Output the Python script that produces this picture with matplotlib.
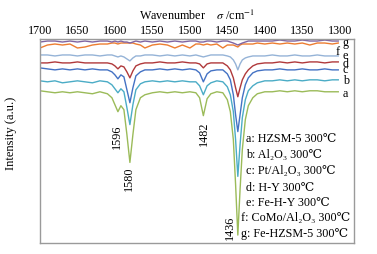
# IR spectra of adsorbed pyridine on different catalysts at 300 C
import matplotlib
matplotlib.use("Agg")
import matplotlib.pyplot as plt

# --- Data (intensity in a.u.) ---
wavenumber = [1700, 1690, 1680, 1670, 1660, 1650, 1640, 1630, 1620, 1610,
              1604, 1600, 1596, 1592, 1588, 1584, 1580, 1576, 1572, 1566,
              1560, 1550, 1540, 1530, 1520, 1510, 1500, 1492, 1487, 1482,
              1477, 1472, 1464, 1456, 1450, 1446, 1442, 1439, 1436, 1433,
              1430, 1426, 1422, 1416, 1410, 1400, 1390, 1380, 1370, 1360,
              1350, 1340, 1330, 1320, 1310, 1302]

spec_a = [153, 152, 151, 152, 151, 152, 151, 150, 152, 150,
          146, 139, 132, 138, 134, 109, 81, 109, 134, 146,
          149, 151, 152, 151, 152, 151, 152, 151, 146, 128,
          145, 150, 152, 151, 144, 132, 104, 59, 8, 54,
          94, 124, 138, 146, 150, 152, 152, 153, 152, 153,
          152, 153, 153, 152, 152, 152]

spec_b = [163, 162, 163, 161, 162, 163, 162, 161, 163, 162,
          159, 155, 151, 155, 152, 136, 119, 139, 154, 160,
          162, 163, 162, 163, 162, 163, 162, 162, 158, 149,
          158, 161, 163, 162, 157, 149, 132, 104, 67, 99,
          126, 144, 153, 158, 161, 163, 163, 164, 163, 164,
          163, 164, 164, 163, 164, 164]

spec_c = [176, 175, 174, 175, 174, 175, 174, 175, 174, 174,
          172, 169, 165, 169, 167, 154, 141, 156, 168, 172,
          174, 174, 175, 174, 175, 174, 175, 174, 171, 162,
          170, 173, 174, 174, 170, 164, 149, 129, 112, 129,
          146, 159, 166, 171, 173, 174, 174, 175, 174, 174,
          175, 174, 174, 175, 174, 174]

spec_d = [181, 181, 182, 181, 181, 182, 181, 181, 181, 181,
          180, 178, 175, 178, 177, 172, 166, 173, 178, 180,
          181, 181, 182, 181, 181, 182, 181, 181, 180, 176,
          180, 181, 181, 181, 178, 174, 166, 156, 147, 156,
          164, 170, 174, 178, 180, 181, 181, 182, 181, 182,
          181, 182, 182, 181, 182, 182]

spec_e = [189, 189, 188, 189, 189, 188, 189, 189, 188, 189,
          189, 188, 187, 188, 187, 185, 183, 186, 188, 188,
          189, 189, 188, 189, 188, 189, 188, 189, 188, 187,
          188, 189, 189, 189, 188, 187, 184, 180, 174, 180,
          184, 186, 187, 188, 188, 188, 189, 188, 188, 189,
          188, 188, 189, 188, 188, 188]

spec_f = [196, 199, 200, 199, 200, 196, 197, 199, 200, 200,
          201, 201, 200, 201, 201, 201, 201, 201, 200, 199,
          196, 199, 200, 199, 196, 199, 196, 200, 200, 199,
          200, 199, 200, 196, 199, 199, 199, 198, 197, 199,
          200, 200, 200, 200, 201, 200, 201, 200, 201, 200,
          201, 199, 201, 201, 200, 201]

spec_g = [202, 203, 203, 202, 203, 202, 203, 202, 203, 203,
          202, 203, 202, 203, 202, 202, 201, 202, 203, 202,
          203, 202, 203, 202, 203, 202, 203, 203, 202, 202,
          203, 203, 202, 203, 203, 202, 201, 200, 199, 200,
          201, 202, 203, 203, 203, 203, 203, 204, 203, 203,
          204, 203, 203, 204, 203, 203]

curve_letters = ["a", "b", "c", "d", "e", "f", "g"]
sample_names = ["a: HZSM-5 300℃",
                "b: Al₂O₃ 300℃",
                "c: Pt/Al₂O₃ 300℃",
                "d: H-Y 300℃",
                "e: Fe-H-Y 300℃",
                "f: CoMo/Al₂O₃ 300℃",
                "g: Fe-HZSM-5 300℃"]
peak_labels = ["1596", "1580", "1482", "1436"]
x_ticks = [1700, 1650, 1600, 1550, 1500, 1450, 1400, 1350, 1300]

colors = ["#9bbb59", "#4bacc6", "#4472c4", "#b0393b", "#95b3d7", "#ed7d31", "#8064a2"]

# --- Fonts ---
# Times-like font first; the others only fill in missing signs (subscripts, ℃)
plt.rcParams["font.family"] = ["Liberation Serif", "DejaVu Serif", "Noto Sans CJK SC"]
plt.rcParams["mathtext.fontset"] = "stix"

fig = plt.figure(figsize=(3.77, 2.55), dpi=100)
ax = fig.add_axes([0.106, 0.043, 0.833, 0.800])

spectra = [spec_a, spec_b, spec_c, spec_d, spec_e, spec_f, spec_g]
for spec, col in zip(spectra, colors):
    ax.plot(wavenumber, spec, color=col, lw=1.0)

# curve letters at the right end
letter_pos = [(1296, 151), (1296, 164), (1296, 175), (1296, 181),
              (1296, 189), (1305, 193), (1296, 202)]
for letter, (lx, ly) in zip(curve_letters, letter_pos):
    ax.text(lx, ly, letter, fontsize=8.7, ha="left", va="center")

# peak position labels (vertical)
peak_pos = [(1598, 108), (1581, 66), (1481, 111), (1446, 16)]
for lab, (px, py) in zip(peak_labels, peak_pos):
    ax.text(px, py, lab, rotation=90, fontsize=8.7, ha="center", va="center")

# sample list
name_pos = [(1425, 106), (1425, 89), (1425, 73), (1425, 56),
            (1425, 41), (1432, 26), (1432, 10)]
for name, (nx, ny) in zip(sample_names, name_pos):
    ax.text(nx, ny, name, fontsize=8.7, ha="left", va="center")

# --- Axes styling ---
ax.set_xlim(1700, 1281)
ax.set_ylim(0, 205)
ax.xaxis.tick_top()
ax.xaxis.set_label_position("top")
ax.set_xticks(x_ticks)
ax.tick_params(axis="x", length=0, pad=2, labelsize=8.7)
ax.set_yticks([])
ax.set_xlabel(r"Wavenumber    $\sigma$ /cm$^{-1}$", fontsize=8.7, labelpad=4)
ax.set_ylabel("Intensity (a.u.)", fontsize=9)
ax.yaxis.set_label_coords(-0.073, 0.544)
for sp in ax.spines.values():
    sp.set_color("#9a9a9a")
    sp.set_linewidth(1.0)

plt.savefig("out.png", dpi=100)
plt.close()
